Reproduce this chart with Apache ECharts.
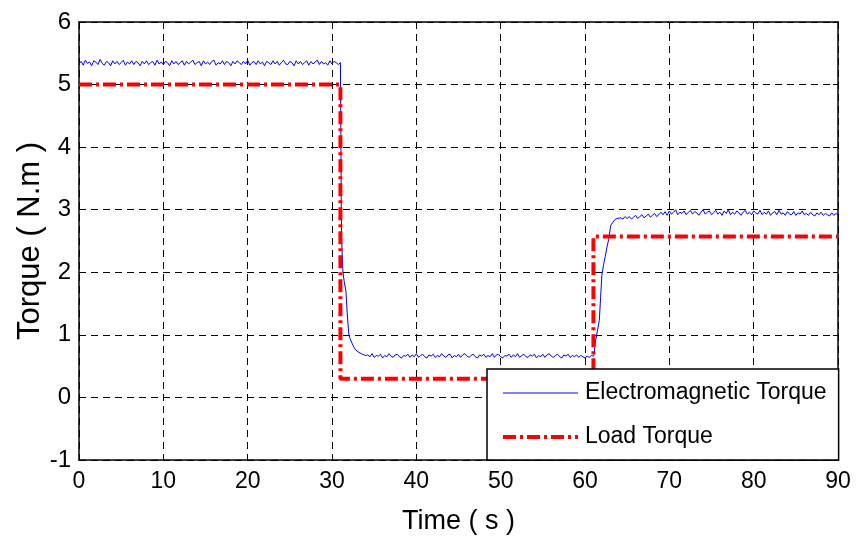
<!DOCTYPE html>
<html>
<head>
<meta charset="utf-8">
<script src="https://cdn.jsdelivr.net/npm/echarts@6/dist/echarts.min.js"></script>
<style>
html,body{margin:0;padding:0;background:#fff;}
#c{width:856px;height:545px;}
</style>
</head>
<body>
<div id="c"></div>
<script>
// ---- data ----
var xTicks = [0, 10, 20, 30, 40, 50, 60, 70, 80, 90];
var yTicks = [-1, 0, 1, 2, 3, 4, 5, 6];
var seriesNames = ['Electromagnetic Torque', 'Load Torque'];

// Load torque (step profile)
var loadTime  = [0, 31, 31, 61, 61, 90];
var loadValue = [5, 5, 0.3, 0.3, 2.57, 2.57];

// Electromagnetic torque, steady part 1: t = 0 .. 31 s, sampled every 0.25 s
var emA_start = 0, emA_step = 0.25;
var emA = [
5.33,5.37,5.31,5.39,5.34,5.36,5.30,5.38,5.36,5.32,
5.40,5.34,5.31,5.37,5.35,5.30,5.38,5.33,5.37,5.32,
5.35,5.39,5.31,5.36,5.33,5.38,5.32,5.37,5.35,5.30,
5.37,5.33,5.38,5.32,5.35,5.37,5.31,5.39,5.33,5.36,
5.32,5.37,5.35,5.30,5.38,5.33,5.37,5.32,5.35,5.38,
5.31,5.37,5.33,5.36,5.39,5.32,5.35,5.37,5.30,5.38,
5.33,5.36,5.32,5.37,5.39,5.31,5.35,5.33,5.38,5.32,
5.37,5.35,5.30,5.37,5.33,5.38,5.35,5.32,5.37,5.33,
5.39,5.31,5.35,5.37,5.32,5.38,5.33,5.36,5.30,5.37,
5.35,5.32,5.38,5.33,5.37,5.31,5.35,5.39,5.33,5.32,
5.37,5.35,5.30,5.38,5.33,5.37,5.32,5.35,5.38,5.31,
5.37,5.33,5.36,5.39,5.32,5.37,5.33,5.35,5.31,5.38,
5.33,5.37,5.35,5.32,5.35
];
// transition 1 (drop)
var emB_time  = [31.05, 31.1, 31.15, 31.3, 31.45, 31.65, 31.8, 32.0, 32.2, 32.4, 32.6, 32.8, 33.0, 33.2, 33.4, 33.6, 33.8, 34.0];
var emB_value = [4.2, 3.0, 2.5, 2.0, 1.85, 1.7, 1.35, 1.0, 0.92, 0.86, 0.80, 0.76, 0.79, 0.72, 0.75, 0.69, 0.72, 0.67];
// steady part 2: t = 34.25 .. 61 s, every 0.25 s
var emC_start = 34.25, emC_step = 0.25;
var emC = [
0.68,0.65,0.70,0.64,0.67,0.66,0.69,0.63,0.67,0.65,
0.70,0.66,0.64,0.68,0.69,0.65,0.63,0.67,0.66,0.69,
0.64,0.68,0.65,0.70,0.64,0.67,0.69,0.65,0.63,0.68,
0.66,0.69,0.64,0.67,0.65,0.70,0.66,0.64,0.68,0.69,
0.63,0.67,0.65,0.69,0.64,0.68,0.70,0.66,0.64,0.67,
0.69,0.65,0.63,0.68,0.66,0.69,0.64,0.67,0.65,0.70,
0.64,0.68,0.69,0.65,0.63,0.67,0.66,0.69,0.64,0.68,
0.65,0.70,0.64,0.67,0.69,0.65,0.64,0.68,0.66,0.69,
0.63,0.67,0.65,0.69,0.64,0.68,0.70,0.66,0.64,0.67,
0.69,0.65,0.63,0.68,0.66,0.69,0.64,0.67,0.65,0.68,
0.64,0.67,0.65,0.63,0.66,0.64,0.67,0.66
];
// transition 2 (rise)
var emD_time  = [61.1, 61.2, 61.45, 61.7, 61.85, 62.0, 62.2, 62.4, 62.6, 62.8, 63.05, 63.3, 63.55, 63.8, 64.0];
var emD_value = [0.70, 0.86, 1.05, 1.23, 1.6, 1.95, 2.12, 2.25, 2.40, 2.52, 2.75, 2.80, 2.84, 2.86, 2.85];
// steady part 3: t = 64.25 .. 90 s, every 0.25 s
var emE_start = 64.25, emE_step = 0.25;
var emE = [
2.87,2.85,2.89,2.86,2.89,2.85,2.88,2.91,2.86,2.89,
2.92,2.87,2.90,2.93,2.88,2.91,2.94,2.89,2.92,2.96,
2.92,2.97,2.91,2.98,2.93,2.96,3.00,2.92,2.96,2.94,
2.98,2.92,2.96,2.99,2.93,2.97,2.95,2.91,2.96,3.00,
2.93,2.96,2.98,2.92,2.95,2.99,2.93,2.96,2.91,2.98,
2.94,3.00,2.92,2.96,2.93,2.98,2.95,2.91,2.96,2.99,
2.93,2.96,2.92,2.98,2.95,2.93,2.99,2.92,2.96,2.93,
2.98,2.91,2.95,2.97,2.92,2.99,2.93,2.95,2.91,2.97,
2.93,2.92,2.97,2.91,2.95,2.93,2.98,2.92,2.94,2.91,
2.96,2.92,2.90,2.95,2.92,2.96,2.91,2.94,2.92,2.90,
2.95,2.91,2.94,2.92
];

// ---- build series data ----
function sampled(start, step, vals) {
  return vals.map(function (v, i) { return [+(start + i * step).toFixed(4), v]; });
}
function paired(ts, vs) {
  return ts.map(function (t, i) { return [t, vs[i]]; });
}
var emData = [].concat(
  sampled(emA_start, emA_step, emA),
  paired(emB_time, emB_value),
  sampled(emC_start, emC_step, emC),
  paired(emD_time, emD_value),
  sampled(emE_start, emE_step, emE)
);
var loadData = paired(loadTime, loadValue);

var FONT = '"Liberation Sans", Arial, sans-serif';
var gridDash = { type: [7, 5], color: '#000', width: 1 };
var emLine = { color: '#0000ff', width: 1, type: 'solid' };
var loadLine = { color: '#ff0000', width: 4, type: [13, 4, 3, 4] };

var chart = echarts.init(document.getElementById('c'), null, { renderer: 'canvas' });
chart.setOption({
  animation: false,
  backgroundColor: '#fff',
  grid: { left: 79, top: 22, right: 18, bottom: 85, containLabel: false },
  legend: {
    orient: 'vertical',
    left: 487, top: 369,
    data: [
      { name: seriesNames[0], lineStyle: emLine, itemStyle: { opacity: 0 } },
      { name: seriesNames[1], lineStyle: loadLine, itemStyle: { opacity: 0 } }
    ],
    itemStyle: { opacity: 0 },
    itemWidth: 75, itemHeight: 14,
    itemGap: 18,
    padding: [11, 12, 10, 14],
    backgroundColor: '#fff',
    borderColor: '#000', borderWidth: 1.5, borderRadius: 0,
    textStyle: { fontFamily: FONT, fontSize: 23, color: '#000', lineHeight: 26, padding: [0, 0, 0, 2] }
  },
  xAxis: [{
    type: 'value', min: xTicks[0], max: xTicks[xTicks.length - 1], interval: 10,
    name: 'Time ( s )', nameLocation: 'middle', nameGap: 48, nameMoveOverlap: false,
    nameTextStyle: { fontFamily: FONT, fontSize: 27, color: '#000' },
    axisLine: { show: true, onZero: false, lineStyle: { color: '#000', width: 1.5 } },
    axisTick: { show: true, inside: true, length: 5, lineStyle: { color: '#000' } },
    axisLabel: { fontFamily: FONT, fontSize: 23, color: '#000', margin: 10 },
    splitLine: { show: true, lineStyle: gridDash }
  }, {
    type: 'value', position: 'top', min: xTicks[0], max: xTicks[xTicks.length - 1], interval: 10,
    axisLine: { show: true, onZero: false, lineStyle: { color: '#000', width: 1.5 } },
    axisTick: { show: true, inside: true, length: 5, lineStyle: { color: '#000' } },
    axisLabel: { show: false }, splitLine: { show: false }
  }],
  yAxis: [{
    type: 'value', min: yTicks[0], max: yTicks[yTicks.length - 1], interval: 1,
    name: 'Torque ( N.m )', nameLocation: 'middle', nameGap: 33, nameMoveOverlap: false,
    nameTextStyle: { fontFamily: FONT, fontSize: 31, color: '#000' },
    axisLine: { show: true, onZero: false, lineStyle: { color: '#000', width: 1.5 } },
    axisTick: { show: true, inside: true, length: 5, lineStyle: { color: '#000' } },
    axisLabel: { fontFamily: FONT, fontSize: 24, color: '#000', margin: 8 },
    splitLine: { show: true, lineStyle: gridDash }
  }, {
    type: 'value', position: 'right', min: yTicks[0], max: yTicks[yTicks.length - 1], interval: 1,
    axisLine: { show: true, onZero: false, lineStyle: { color: '#000', width: 1.5 } },
    axisTick: { show: true, inside: true, length: 5, lineStyle: { color: '#000' } },
    axisLabel: { show: false }, splitLine: { show: false }
  }],
  series: [{
    name: seriesNames[0], type: 'line', data: emData,
    xAxisIndex: 0, yAxisIndex: 0,
    symbol: 'none', showSymbol: false,
    lineStyle: emLine,
    itemStyle: { color: '#0000ff' },
    z: 2
  }, {
    name: seriesNames[1], type: 'line', data: loadData,
    xAxisIndex: 0, yAxisIndex: 0,
    symbol: 'none', showSymbol: false,
    lineStyle: loadLine,
    itemStyle: { color: '#ff0000' },
    z: 3
  }]
});
</script>
</body>
</html>
